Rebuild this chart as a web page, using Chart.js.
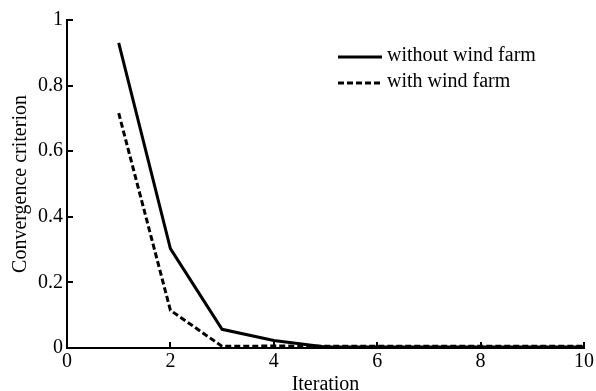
<!DOCTYPE html>
<html>
<head>
<meta charset="utf-8">
<script src="https://cdn.jsdelivr.net/npm/chart.js@4"></script>
<style>
  html, body { margin: 0; padding: 0; background: #fff; overflow: hidden; }
  #wrap { width: 596px; height: 391px; }
</style>
</head>
<body>
<div id="wrap"><canvas id="conv" width="596" height="391"></canvas></div>
<script>
// values
const iterations = [1, 2, 3, 4, 5, 6, 7, 8, 9, 10];
const withoutWindFarm = [0.93, 0.303, 0.057, 0.023, 0.003, 0.003, 0.003, 0.003, 0.003, 0.003];
const withWindFarm = [0.716, 0.115, 0.005, 0.006, 0.005, 0.005, 0.005, 0.005, 0.005, 0.005];
const xTicks = [0, 2, 4, 6, 8, 10];
const yTicks = [0, 0.2, 0.4, 0.6, 0.8, 1];

const FONT = 'Liberation Serif';

function toPoints(ys) {
    return iterations.map((x, i) => ({ x: x, y: ys[i] }));
}

// inward tick marks like the matlab plot
const innerTicks = {
    id: 'innerTicks',
    afterDraw(chart) {
        const ctx = chart.ctx;
        const xs = chart.scales.x, ys = chart.scales.y;
        const a = chart.chartArea;
        ctx.save();
        ctx.strokeStyle = '#000';
        ctx.lineWidth = 2;
        ctx.beginPath();
        xTicks.slice(1).forEach(v => {
            const px = Math.round(xs.getPixelForValue(v));
            ctx.moveTo(px, a.bottom);
            ctx.lineTo(px, a.bottom - 6);
        });
        yTicks.slice(1).forEach(v => {
            const py = Math.round(ys.getPixelForValue(v));
            ctx.moveTo(a.left, py);
            ctx.lineTo(a.left + 6, py);
        });
        ctx.stroke();
        ctx.restore();
    }
};

// legend box in the upper right of the axes
const insideLegend = {
    id: 'insideLegend',
    afterDraw(chart) {
        const ctx = chart.ctx;
        const rows = [57, 83];
        ctx.save();
        chart.data.datasets.forEach((ds, i) => {
            const y = rows[i];
            ctx.strokeStyle = ds.borderColor;
            ctx.lineWidth = ds.borderWidth;
            ctx.setLineDash(ds.borderDash || []);
            ctx.beginPath();
            ctx.moveTo(338, y);
            ctx.lineTo(382, y);
            ctx.stroke();
            ctx.setLineDash([]);
            ctx.fillStyle = '#000';
            ctx.font = '20px "' + FONT + '"';
            ctx.textBaseline = 'middle';
            ctx.textAlign = 'left';
            ctx.fillText(ds.label, 387, y - 1);
        });
        ctx.restore();
    }
};

new Chart(document.getElementById('conv'), {
    type: 'line',
    data: {
        datasets: [{
            label: 'without wind farm',
            data: toPoints(withoutWindFarm),
            borderColor: '#000',
            borderWidth: 3,
            pointRadius: 0,
            tension: 0
        }, {
            label: 'with wind farm',
            data: toPoints(withWindFarm),
            borderColor: '#000',
            borderWidth: 3,
            borderDash: [6, 3],
            pointRadius: 0,
            tension: 0
        }]
    },
    options: {
        responsive: false,
        animation: false,
        layout: { padding: { left: 0, right: 10, top: 20, bottom: 0 } },
        plugins: {
            legend: { display: false },
            tooltip: { enabled: false }
        },
        scales: {
            x: {
                type: 'linear',
                min: 0,
                max: 10,
                afterFit: s => { s.height = 43; },
                afterBuildTicks: s => { s.ticks = xTicks.map(v => ({ value: v })); },
                grid: { display: false, drawTicks: false },
                border: { display: true, color: '#000', width: 2 },
                ticks: { color: '#000', padding: 2, maxRotation: 0, font: { family: FONT, size: 20 } },
                title: {
                    display: true,
                    text: 'Iteration',
                    color: '#000',
                    padding: { top: 0, bottom: -6 },
                    font: { family: FONT, size: 20 }
                }
            },
            y: {
                min: 0,
                max: 1,
                afterFit: s => { s.width = 67; },
                afterBuildTicks: s => { s.ticks = yTicks.map(v => ({ value: v })); },
                grid: { display: false, drawTicks: false },
                border: { display: true, color: '#000', width: 2 },
                ticks: {
                    color: '#000',
                    padding: 4,
                    font: { family: FONT, size: 20 },
                    callback: v => String(v)
                },
                title: {
                    display: true,
                    text: 'Convergence criterion',
                    color: '#000',
                    padding: { top: 9, bottom: 0 },
                    font: { family: FONT, size: 20 }
                }
            }
        }
    },
    plugins: [innerTicks, insideLegend]
});
</script>
</body>
</html>
